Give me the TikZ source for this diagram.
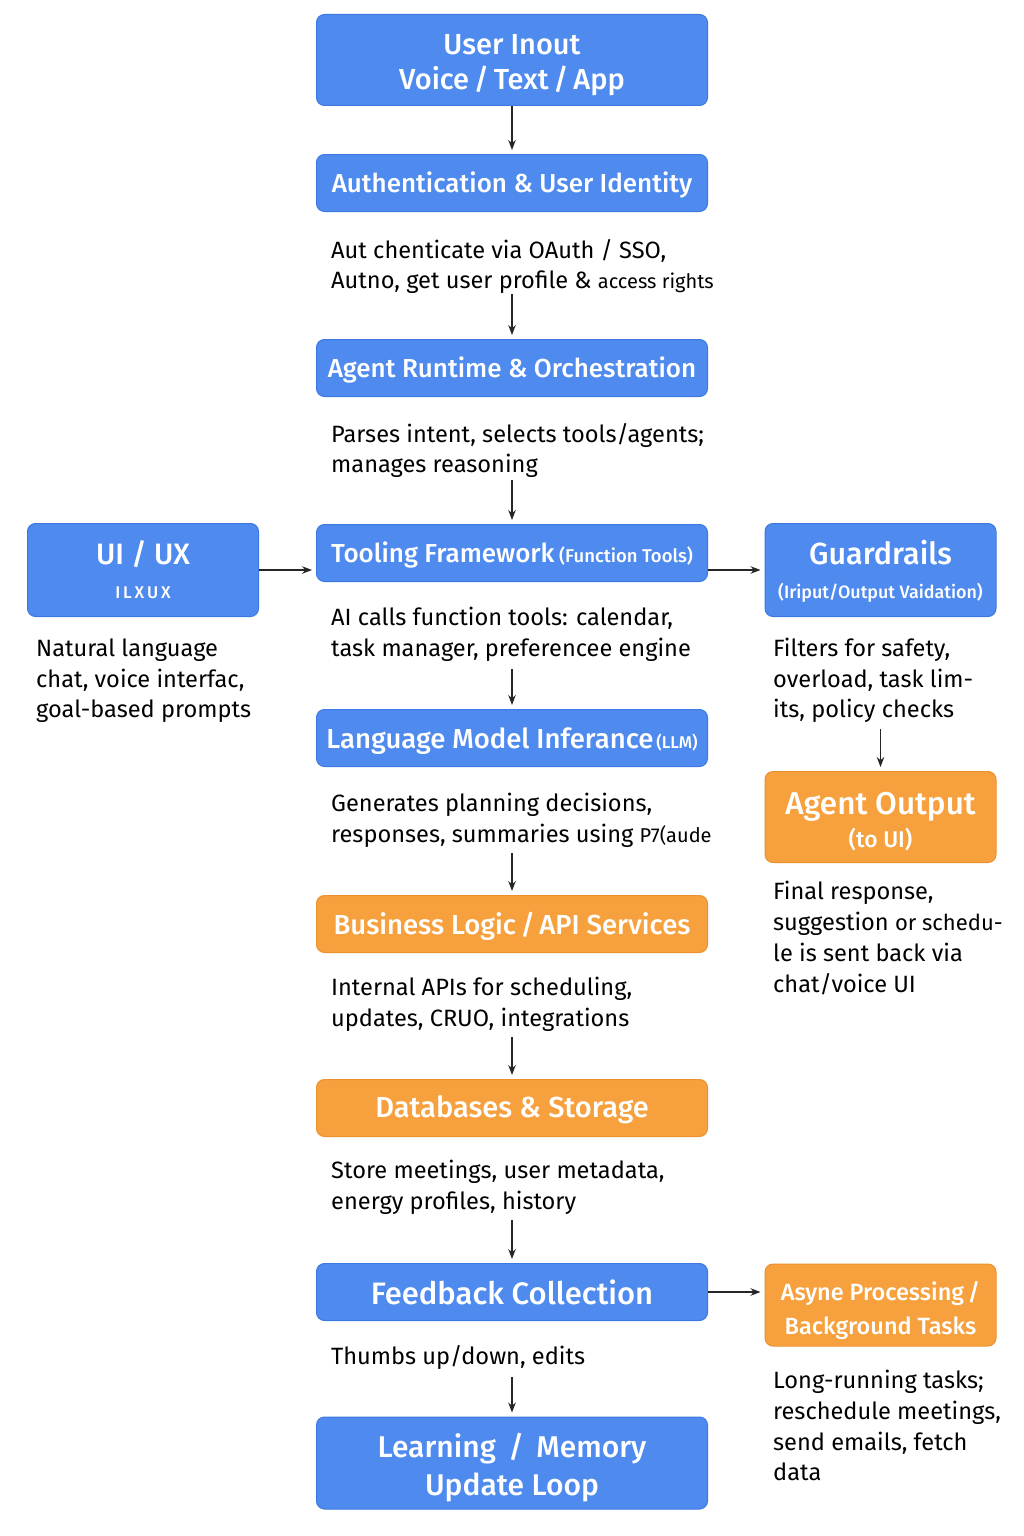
\documentclass[tikz,border=0pt]{standalone}
\usepackage{fontspec}
\setmainfont{Fira Sans}
\newfontfamily\titlefont{Fira Sans Medium}
\usetikzlibrary{arrows.meta}
\definecolor{boxblue}{RGB}{79,139,239}
\definecolor{boxblueline}{RGB}{60,120,225}
\definecolor{boxorange}{RGB}{247,161,62}
\definecolor{boxorangeline}{RGB}{235,145,45}
\newcommand{\upstrut}[1]{\rule{0pt}{#1}}
\tikzset{
  bluebox/.style={draw=boxblueline, fill=boxblue, line width=1pt, rounded corners=8pt, text=white, align=center, inner sep=0pt, minimum width=391pt, minimum height=57pt, font=\titlefont\fontsize{26}{34}\selectfont},
  orangebox/.style={bluebox, draw=boxorangeline, fill=boxorange},
  sidebox/.style={minimum width=231pt, minimum height=93pt},
  desc/.style={anchor=north west, align=left, inner sep=0pt, text=black, font=\fontsize{23.6}{30.5}\selectfont},
  flow/.style={draw=black!85, line width=1.2pt, -{Stealth[length=10pt,width=7.5pt]}, shorten >=4pt},
}
\begin{document}
\begin{tikzpicture}[x=1pt,y=-1pt]
\useasboundingbox[fill=white] (0,0) rectangle (1024,1536);

% main column
\node[bluebox, minimum height=91pt, font=\titlefont\fontsize{29}{35}\selectfont] (input) at (512,60) {\upstrut{30pt}User Inout\\Voice\,/\,Text\,/\,App};
\node[bluebox] (auth) at (512,183) {\upstrut{24pt}Authentication \& User Identity};
\node[desc] (authtext) at (331,239) {Aut chenticate via OAuth / SSO,\\Autno, get user profile \& {\fontsize{20}{30.5}\selectfont access rights}};
\node[bluebox] (runtime) at (512,368) {\upstrut{24pt}Agent Runtime \& Orchestration};
\node[desc] (runtimetext) at (331,423) {Parses intent, selects tools/agents;\\manages reasoning};
\node[bluebox] (tooling) at (512,553) {\upstrut{24pt}Tooling Framework{\fontsize{18.5}{20}\selectfont\ (Function Tools)}};
\node[desc] (toolingtext) at (331,607) {AI calls function tools: calendar,\\task manager, preferencee engine};
\node[bluebox, font=\titlefont\fontsize{27.5}{34}\selectfont] (llm) at (512,738) {\upstrut{26pt}Language Model Inferance{\fontsize{17}{20}\selectfont\,(LLM)}};
\node[desc] (llmtext) at (331,793) {Generates planning decisions,\\responses, summaries using {\fontsize{20}{30.5}\selectfont P7(aude}};
\node[orangebox, font=\titlefont\fontsize{27.5}{34}\selectfont] (business) at (512,924) {\upstrut{26pt}Business Logic\,/\,API Services};
\node[desc] (businesstext) at (331,977) {Internal APIs for scheduling,\\updates, CRUO, integrations};
\node[orangebox, font=\titlefont\fontsize{29}{34}\selectfont] (db) at (512,1108) {\upstrut{26pt}Databases \& Storage};
\node[desc] (dbtext) at (331,1160) {Store meetings, user metadata,\\energy profiles, history};
\node[bluebox, font=\titlefont\fontsize{31}{34}\selectfont] (feedback) at (512,1292) {Feedback Collection};
\node[desc] (feedbacktext) at (331,1345) {Thumbs up/down, edits};
\node[bluebox, minimum height=92pt, font=\titlefont\fontsize{30}{38}\selectfont] (learning) at (512,1463) {\upstrut{33pt}Learning \,/\, Memory\\Update Loop};

% left
\node[bluebox, sidebox, font=\titlefont\fontsize{29.5}{38}\selectfont] (ui) at (143,570) {UI / UX\\[-4pt]{\fontsize{17}{20}\selectfont I\,L\,X\,U\,X}};
\node[desc] (uitext) at (36,639) {Natural language\\chat, voice interfac,\\goal-based prompts};

% right
\node[bluebox, sidebox, font=\titlefont\fontsize{30.5}{38}\selectfont] (guard) at (880.5,570) {\upstrut{26pt}Guardrails\\[-4pt]{\fontsize{17.9}{20}\selectfont (Iriput/Output Vaidation)}};
\node[desc] (guardtext) at (773,638) {Filters for safety,\\overload, task lim-\\its, policy checks};
\node[orangebox, sidebox, minimum height=91pt, font=\titlefont\fontsize{31.5}{33}\selectfont] (output) at (880.5,817) {\upstrut{31pt}Agent Output\\{\fontsize{22.8}{24}\selectfont (to UI)}};
\node[desc, font=\fontsize{23.6}{31}\selectfont] (outputtext) at (773,881) {Final response,\\suggestion {\fontsize{22}{31}\selectfont or schedu-}\\le is sent back via\\chat/voice UI};
\node[orangebox, sidebox, minimum height=82pt, font=\titlefont\fontsize{23.5}{34}\selectfont] (async) at (880.5,1305) {\upstrut{31pt}Asyne Processing\,/\\Background Tasks};
\node[desc, font=\fontsize{23.6}{30.7}\selectfont] (asynctext) at (773,1370) {Long-running tasks;\\reschedule meetings,\\send emails, fetch\\data};

% connectors
\draw[flow] (input.south) -- (auth.north);
\draw[flow] (authtext.south -| runtime.north) -- (runtime.north);
\draw[flow] (runtimetext.south -| tooling.north) ++(0,2) -- (tooling.north);
\draw[flow] (toolingtext.south -| llm.north) ++(0,8) -- (llm.north);
\draw[flow] (llmtext.south -| business.north) ++(0,6) -- (business.north);
\draw[flow] (businesstext.south -| db.north) ++(0,6) -- (db.north);
\draw[flow] (dbtext.south -| feedback.north) ++(0,6) -- (feedback.north);
\draw[flow] (feedbacktext.south -| learning.north) ++(0,8) -- (learning.north);
\draw[flow] (ui.east) -- (tooling.west |- ui.east);
\draw[flow] (tooling.east |- guard.west) -- (guard.west);
\draw[flow] (guardtext.south -| output.north) ++(0,6) -- (output.north);
\draw[flow] (feedback.east) -- (async.west |- feedback.east);
\end{tikzpicture}
\end{document}
